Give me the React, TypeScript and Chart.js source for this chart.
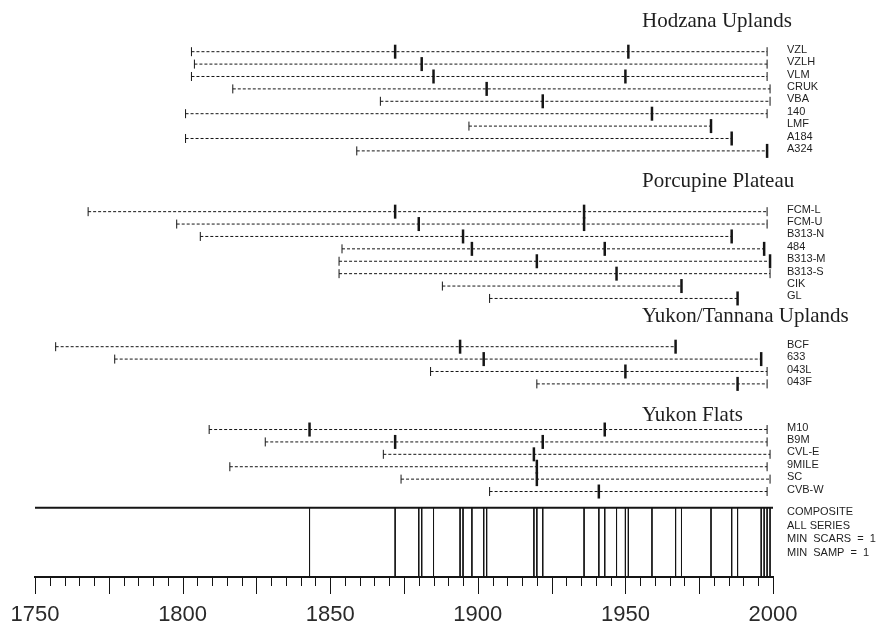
import { useEffect, useRef } from "react";
import { Chart, registerables } from "chart.js";
Chart.register(...registerables);

// ---------------- DATA ----------------
const groupNames = ["Hodzana Uplands", "Porcupine Plateau", "Yukon/Tannana Uplands", "Yukon Flats"];

const seriesNames = [
  "VZL", "VZLH", "VLM", "CRUK", "VBA", "140", "LMF", "A184", "A324",
  "FCM-L", "FCM-U", "B313-N", "484", "B313-M", "B313-S", "CIK", "GL",
  "BCF", "633", "043L", "043F",
  "M10", "B9M", "CVL-E", "9MILE", "SC", "CVB-W",
];
const seriesGroup = [
  0, 0, 0, 0, 0, 0, 0, 0, 0,
  1, 1, 1, 1, 1, 1, 1, 1,
  2, 2, 2, 2,
  3, 3, 3, 3, 3, 3,
];
const startYears = [
  1803, 1804, 1803, 1817, 1867, 1801, 1897, 1801, 1859,
  1768, 1798, 1806, 1854, 1853, 1853, 1888, 1904,
  1757, 1777, 1884, 1920,
  1809, 1828, 1868, 1816, 1874, 1904,
];
const endYears = [
  1998, 1998, 1998, 1999, 1999, 1998, 1979, 1986, 1998,
  1998, 1998, 1986, 1997, 1999, 1999, 1969, 1988,
  1967, 1996, 1998, 1998,
  1998, 1998, 1999, 1998, 1999, 1998,
];
const scarYears: number[][] = [
  [1872, 1951], [1881], [1885, 1950], [1903], [1922], [1959], [1979], [1986], [1998],
  [1872, 1936], [1880, 1936], [1895, 1986], [1898, 1943, 1997], [1920, 1999], [1947], [1969], [1988],
  [1894, 1967], [1902, 1996], [1950], [1988],
  [1843, 1943], [1872, 1922], [1919], [1920], [1920], [1941],
];
const compositeYears = [
  1843, 1872, 1880, 1881, 1885, 1894, 1895, 1898, 1902, 1903, 1919, 1920, 1922,
  1936, 1941, 1943, 1947, 1950, 1951, 1959, 1967, 1969, 1979, 1986, 1988,
  1996, 1997, 1998, 1999,
];
const compositeLabels = ["COMPOSITE", "ALL SERIES", "MIN  SCARS  =  1", "MIN  SAMP  =  1"];
const axisLabelYears = [1750, 1800, 1850, 1900, 1950, 2000];

// ---------------- LAYOUT ----------------
const X_MIN = 1750;
const X_MAX = 2000;
const Y_MIN = -4.169;
const Y_MAX = 42.363;
const GROUP_START = [0, 12.9, 23.79, 30.47];
const GROUP_TITLE = [-2.4, 10.48, 21.37, 29.35];
const COMP_TOP = 36.77;
const COMP_LABEL_ROWS = [37.12, 38.21, 39.3, 40.39];
const INK = "#151515";
const TEXT = "#1e1e1e";
const SANS = '"Liberation Sans", Arial, sans-serif';
const SERIF = '"Liberation Serif", "Times New Roman", serif';

function rowOf(i: number): number {
  const g = seriesGroup[i];
  let idx = 0;
  for (let j = 0; j < i; j++) if (seriesGroup[j] === g) idx++;
  return GROUP_START[g] + idx;
}

const overlay = {
  id: "fhxOverlay",
  afterDraw(chart: any) {
    const ctx = chart.ctx as CanvasRenderingContext2D;
    const xs = chart.scales.x;
    const ys = chart.scales.y;
    const bottom = chart.chartArea.bottom;
    ctx.save();
    // axis ticks (minor every 5, major every 25)
    ctx.strokeStyle = INK;
    ctx.lineWidth = 1;
    for (let yr = X_MIN; yr <= X_MAX; yr += 5) {
      const px = Math.round(xs.getPixelForValue(yr)) + 0.5;
      const len = yr % 25 === 0 ? 17 : 9;
      ctx.beginPath();
      ctx.moveTo(px, bottom);
      ctx.lineTo(px, bottom + len);
      ctx.stroke();
    }
    // group titles
    ctx.fillStyle = TEXT;
    ctx.textAlign = "left";
    ctx.textBaseline = "middle";
    ctx.font = `21px ${SERIF}`;
    groupNames.forEach((name, g) => {
      ctx.fillText(name, 642, ys.getPixelForValue(GROUP_TITLE[g]));
    });
    // series labels
    const labelX = xs.right + 14;
    ctx.font = `11px ${SANS}`;
    seriesNames.forEach((name, i) => {
      ctx.fillText(name, labelX, ys.getPixelForValue(rowOf(i)) - 2);
    });
    compositeLabels.forEach((name, i) => {
      ctx.fillText(name, labelX, ys.getPixelForValue(COMP_LABEL_ROWS[i]));
    });
    ctx.restore();
  },
};

export default function App() {
  const ref = useRef<HTMLCanvasElement>(null);
  useEffect(() => {
    document.body.style.margin = "0";
    const datasets: any[] = [];
    seriesNames.forEach((_, i) => {
      const k = rowOf(i);
      datasets.push({
        data: [{ x: startYears[i], y: k }, { x: endYears[i], y: k }],
        showLine: true,
        borderColor: INK,
        borderWidth: 1,
        borderDash: [3, 2],
        pointRadius: 0,
      });
      datasets.push({
        data: [{ x: startYears[i], y: k }, { x: endYears[i], y: k }],
        showLine: false,
        pointStyle: "line",
        pointRotation: 90,
        pointRadius: 4.5,
        pointBorderWidth: 1,
        pointBorderColor: INK,
      });
      datasets.push({
        data: scarYears[i].map((x) => ({ x, y: k })),
        showLine: false,
        pointStyle: "line",
        pointRotation: 90,
        pointRadius: 7,
        pointBorderWidth: 2.5,
        pointBorderColor: INK,
      });
    });
    compositeYears.forEach((yr) => {
      datasets.push({
        data: [{ x: yr, y: COMP_TOP }, { x: yr, y: Y_MAX }],
        showLine: true,
        borderColor: INK,
        borderWidth: 1,
        pointRadius: 0,
      });
    });
    datasets.push({
      data: [{ x: X_MIN, y: COMP_TOP }, { x: X_MAX, y: COMP_TOP }],
      showLine: true,
      borderColor: INK,
      borderWidth: 2,
      pointRadius: 0,
    });

    const chart = new Chart(ref.current as HTMLCanvasElement, {
      type: "scatter",
      data: { datasets },
      options: {
        responsive: false,
        animation: false,
        events: [],
        layout: { autoPadding: false, padding: { left: 35, right: 106, top: 0, bottom: 0 } },
        plugins: { legend: { display: false }, tooltip: { enabled: false } },
        scales: {
          x: {
            type: "linear",
            min: X_MIN,
            max: X_MAX,
            grid: { display: false },
            border: { display: true, color: INK, width: 2 },
            afterBuildTicks: (s: any) => {
              s.ticks = axisLabelYears.map((v) => ({ value: v }));
            },
            afterFit: (s: any) => {
              s.height = 44;
              s.paddingLeft = 0;
              s.paddingRight = 0;
              s.paddingTop = 0;
              s.paddingBottom = 0;
            },
            ticks: {
              color: "#2a2a2a",
              font: { family: SANS, size: 22 },
              padding: 17,
              maxRotation: 0,
              autoSkip: false,
              callback: (v: any) => String(v),
            },
          },
          y: { type: "linear", min: Y_MIN, max: Y_MAX, reverse: true, display: false },
        },
      },
      plugins: [overlay],
    } as any);
    return () => chart.destroy();
  }, []);
  return (
    <div style={{ width: 879, height: 621, background: "#fff" }}>
      <canvas ref={ref} width={879} height={621} style={{ display: "block" }} />
    </div>
  );
}
